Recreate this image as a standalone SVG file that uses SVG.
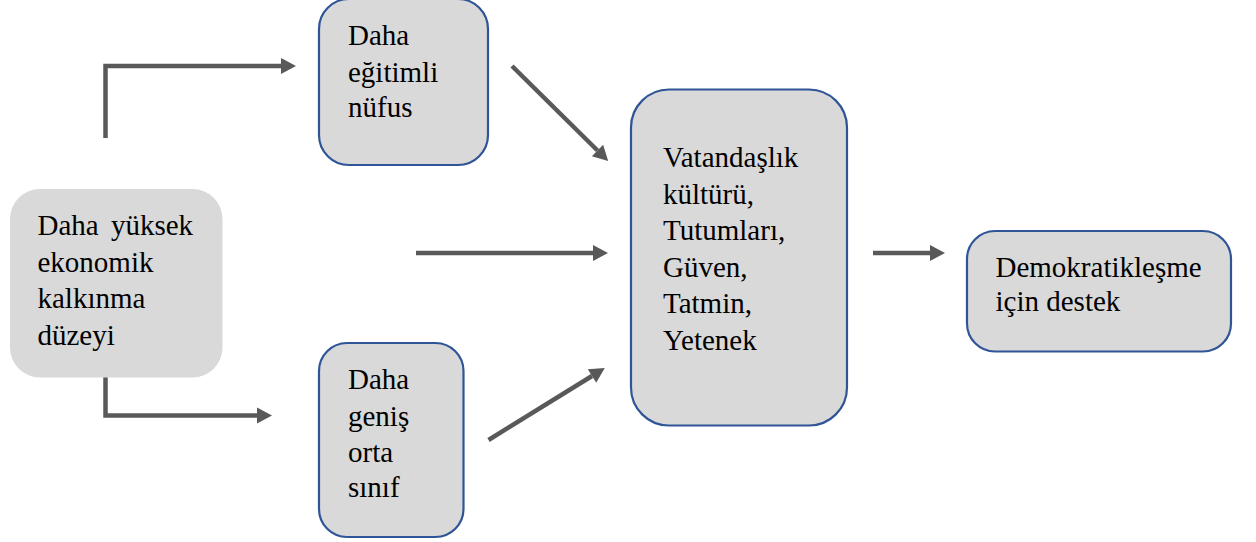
<svg xmlns="http://www.w3.org/2000/svg" width="1256" height="542" viewBox="0 0 1256 542">
<defs>
<marker id="ah" markerUnits="userSpaceOnUse" markerWidth="16" markerHeight="18" refX="0" refY="8.5" orient="auto" overflow="visible">
<polygon points="0,0.5 15,8.5 0,16.5" fill="#595959"/>
</marker>
</defs>
<rect width="1256" height="542" fill="#fff"/>
<g id="connectors" fill="none" stroke="#595959" stroke-width="4.5">
<polyline points="105.5,138 105.5,66 281,66" marker-end="url(#ah)"/>
<line x1="512" y1="66" x2="597.5" y2="150.5" marker-end="url(#ah)"/>
<line x1="416" y1="253" x2="593" y2="253" marker-end="url(#ah)"/>
<polyline points="105.5,366 105.5,415.5 257,415.5" marker-end="url(#ah)"/>
<line x1="488.5" y1="440" x2="592" y2="376" marker-end="url(#ah)"/>
<line x1="873" y1="253" x2="930" y2="253" marker-end="url(#ah)"/>
</g>
<g id="node-economic">
<rect x="10" y="189" width="212.5" height="188.5" rx="30" fill="#d9d9d9"/>
<text font-family="Liberation Serif" font-size="29" x="37.5" y="235" word-spacing="5">Daha yüksek</text>
<text font-family="Liberation Serif" font-size="29" x="37.5" y="271.5">ekonomik</text>
<text font-family="Liberation Serif" font-size="29" x="37.5" y="308">kalkınma</text>
<text font-family="Liberation Serif" font-size="29" x="37.5" y="345">düzeyi</text>
</g>
<g id="node-educated">
<rect x="319" y="-1" width="169" height="166" rx="30" fill="#d9d9d9" stroke="#2f5597" stroke-width="2.2"/>
<text font-family="Liberation Serif" font-size="29" x="348" y="45">Daha</text>
<text font-family="Liberation Serif" font-size="29" x="348" y="81.5">eğitimli</text>
<text font-family="Liberation Serif" font-size="29" x="348" y="117">nüfus</text>
</g>
<g id="node-middle">
<rect x="319" y="343" width="144.5" height="194" rx="28" fill="#d9d9d9" stroke="#2f5597" stroke-width="2.2"/>
<text font-family="Liberation Serif" font-size="29" x="348" y="389">Daha</text>
<text font-family="Liberation Serif" font-size="29" x="348" y="426">geniş</text>
<text font-family="Liberation Serif" font-size="29" x="348" y="462">orta</text>
<text font-family="Liberation Serif" font-size="29" x="348" y="497">sınıf</text>
</g>
<g id="node-civic">
<rect x="631" y="89.5" width="216" height="336" rx="38" fill="#d9d9d9" stroke="#2f5597" stroke-width="2.2"/>
<text font-family="Liberation Serif" font-size="29" x="663" y="167">Vatandaşlık</text>
<text font-family="Liberation Serif" font-size="29" x="663" y="203.5">kültürü,</text>
<text font-family="Liberation Serif" font-size="29" x="663" y="240">Tutumları,</text>
<text font-family="Liberation Serif" font-size="29" x="663" y="276.5">Güven,</text>
<text font-family="Liberation Serif" font-size="29" x="663" y="313">Tatmin,</text>
<text font-family="Liberation Serif" font-size="29" x="663" y="349.5">Yetenek</text>
</g>
<g id="node-support">
<rect x="967" y="231" width="264" height="120.5" rx="28" fill="#d9d9d9" stroke="#2f5597" stroke-width="2.2"/>
<text font-family="Liberation Serif" font-size="29" x="995.5" y="277">Demokratikleşme</text>
<text font-family="Liberation Serif" font-size="29" x="995.5" y="311">için destek</text>
</g>
</svg>
